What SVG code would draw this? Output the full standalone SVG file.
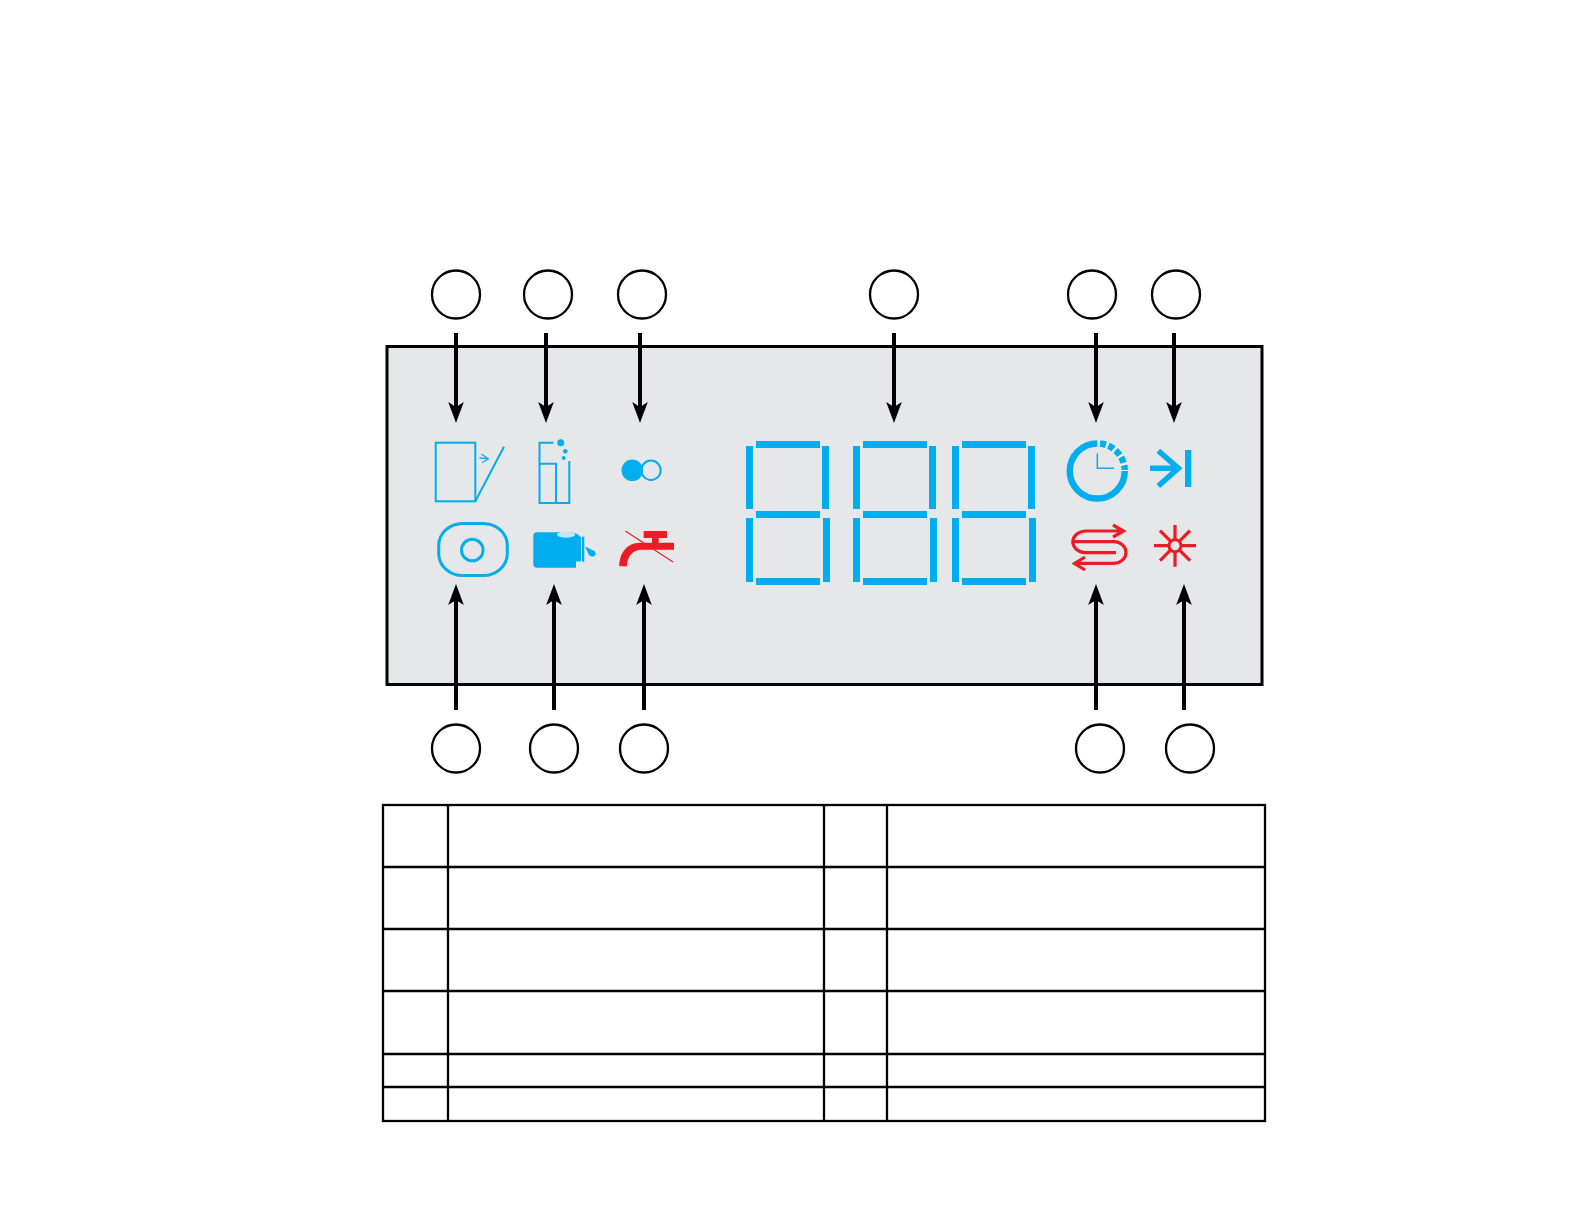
<svg xmlns="http://www.w3.org/2000/svg" width="1584" height="1224" viewBox="0 0 1584 1224">
<style>
.num{fill:#fff;stroke:#000;stroke-width:2.300}
.conn{fill:none;stroke:#000;stroke-width:4;marker-end:url(#ah)}
.grid{fill:none;stroke:#000;stroke-width:2.300}
.b{fill:#00AEEF}
.r{fill:#ED1C24}
.bl{fill:none;stroke:#00AEEF;stroke-width:2}
.rl{fill:none;stroke:#ED1C24;stroke-width:3.200}
</style>
<defs>
<marker id="ah" markerUnits="userSpaceOnUse" markerWidth="21" markerHeight="16" viewBox="0 0 21 16" refX="5" refY="8" orient="auto"><path d="M0 .2L21 8L0 15.800L5 8Z" fill="#000"/></marker>
<g id="d8">
<rect class="b" x="10" y="0" width="64" height="7"/>
<rect class="b" x="0" y="5" width="7" height="63"/>
<rect class="b" x="76" y="5" width="7" height="63"/>
<rect class="b" x="10" y="70" width="64" height="7"/>
<rect class="b" x="0" y="77" width="7" height="64"/>
<rect class="b" x="77" y="77" width="7" height="64"/>
<rect class="b" x="10" y="137" width="64" height="7"/>
</g>
</defs>
<rect width="1584" height="1224" fill="#fff"/>
<g id="panel"><rect x="387" y="346.500" width="875" height="338" fill="#E6E7E8" stroke="#000" stroke-width="3"/></g>
<g id="icon-door">
<rect class="bl" x="435.700" y="442.700" width="39.600" height="58.600"/>
<path class="bl" d="M475.300 501.300L504 446.700"/>
<path d="M479.500 458L488.300 458.700M481.300 454L488.300 458.700L482 462.700" fill="none" stroke="#00AEEF" stroke-width="1.300"/>
</g>
<g id="icon-salt">
<path class="bl" d="M553.500 442.700H539.500V503H569.300V461M539.500 463.700H556V503"/>
<circle class="b" cx="560.700" cy="442.700" r="3.500"/><circle class="b" cx="565.300" cy="451.300" r="2.300"/><circle class="b" cx="563.700" cy="458" r="1.900"/>
</g>
<g id="icon-half">
<circle class="b" cx="632.300" cy="470.300" r="10.800"/>
<circle class="bl" cx="651" cy="470.300" r="9.700"/>
</g>
<g id="icon-rinse">
<rect x="438.700" y="523.500" width="68.600" height="52" rx="24" ry="22" fill="none" stroke="#00AEEF" stroke-width="3"/>
<circle cx="472.300" cy="550" r="10.800" fill="none" stroke="#00AEEF" stroke-width="3"/>
</g>
<g id="icon-tablet">
<path class="b" d="M537 532.300H568C574 532.300 578.500 534 581 537.500V561.500H576V567.700H537Q533.300 567.700 533.300 564V536Q533.300 532.300 537 532.300Z"/>
<ellipse cx="566" cy="534.700" rx="9" ry="3" fill="#C5E8F7"/>
<rect class="b" x="582" y="536.700" width="2.300" height="25"/>
<path class="b" d="M585 546.500L594.500 551Q597 554 594.500 556Q591 557.500 589 555Z"/>
</g>
<g id="icon-tap">
<path d="M625.300 531L673 562" fill="none" stroke="#F1F2F3" stroke-width="3"/>
<path class="r" d="M643.700 531H667V538H658.700V542.700H674V549.700H642C633 549.700 627 556 627 566.300H619.300C619.300 552 628 543 639.300 542.700H652V538H643.700Z"/>
<path d="M625.300 531L673 562" fill="none" stroke="#ED1C24" stroke-width="1.300"/>
</g>
<g id="display">
<use href="#d8" x="746" y="441"/>
<use href="#d8" x="853" y="441"/>
<use href="#d8" x="952" y="441"/>
</g>
<g id="icon-clock">
<path d="M1124.800 471A27.500 27.500 0 1 1 1097.300 443.500" fill="none" stroke="#00AEEF" stroke-width="6.500"/>
<path d="M1099.500 443.600A27.500 27.500 0 0 1 1124.800 471" fill="none" stroke="#F4F9FC" stroke-width="6.500"/>
<path d="M1100 443.600A27.500 27.500 0 0 1 1124.800 470" fill="none" stroke="#00AEEF" stroke-width="6.500" stroke-dasharray="6.200 2.400"/>
<path d="M1097.300 453.500V468.300H1114" fill="none" stroke="#00AEEF" stroke-width="1.500"/>
</g>
<g id="icon-skip">
<path d="M1150 468.300H1178M1158.300 450.700L1178.300 468.300L1158.300 486" fill="none" stroke="#00AEEF" stroke-width="5.500"/>
<rect class="b" x="1185" y="450" width="6.300" height="37"/>
</g>
<g id="icon-heat">
<path class="rl" d="M1122 531H1085A13.500 10.900 0 0 0 1085 552.700H1116M1074 541.700H1114A12 10.800 0 0 1 1114 563.300H1076M1113 525L1123.500 531L1113 537M1085 557L1074.500 563.500L1085 570"/>
</g>
<g id="icon-sun">
<path class="rl" d="M1175 525V566.700M1154 545.700H1196M1160 530.700L1190 560.700M1190 530.700L1160 560.700"/>
<circle cx="1175" cy="545.700" r="6" fill="#E6E7E8" stroke="#ED1C24" stroke-width="3"/>
</g>
<g id="connectors">
<path class="conn" d="M456 333V407"/>
<path class="conn" d="M546 333V407"/>
<path class="conn" d="M640 333V407"/>
<path class="conn" d="M894 333V407"/>
<path class="conn" d="M1096 333V407"/>
<path class="conn" d="M1174 333V407"/>
<path class="conn" d="M456 710V600"/>
<path class="conn" d="M554 710V600"/>
<path class="conn" d="M644 710V600"/>
<path class="conn" d="M1096 710V600"/>
<path class="conn" d="M1184 710V600"/>
</g>
<g id="n1"><circle class="num" cx="456" cy="294.500" r="24"/></g>
<g id="n2"><circle class="num" cx="548" cy="294.500" r="24"/></g>
<g id="n3"><circle class="num" cx="642" cy="294.500" r="24"/></g>
<g id="n4"><circle class="num" cx="894" cy="294.500" r="24"/></g>
<g id="n5"><circle class="num" cx="1092" cy="294.500" r="24"/></g>
<g id="n6"><circle class="num" cx="1176" cy="294.500" r="24"/></g>
<g id="n7"><circle class="num" cx="456" cy="748.500" r="24"/></g>
<g id="n8"><circle class="num" cx="554" cy="748.500" r="24"/></g>
<g id="n9"><circle class="num" cx="644" cy="748.500" r="24"/></g>
<g id="n10"><circle class="num" cx="1100" cy="748.500" r="24"/></g>
<g id="n11"><circle class="num" cx="1190" cy="748.500" r="24"/></g>
<g id="table">
<rect class="grid" x="383" y="805" width="882" height="316"/>
<path class="grid" d="M383 867H1265M383 929H1265M383 991H1265M383 1054H1265M383 1087H1265M448 805V1121M824 805V1121M887 805V1121"/>
</g>
</svg>
